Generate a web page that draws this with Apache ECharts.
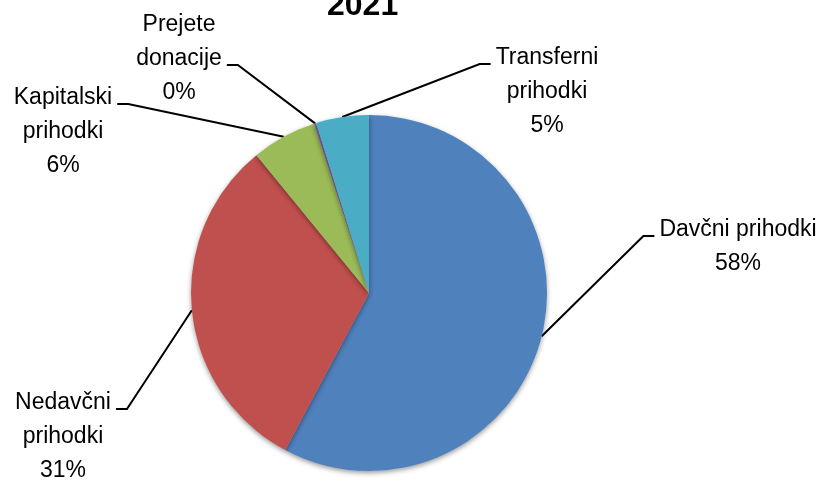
<!DOCTYPE html>
<html>
<head>
<meta charset="utf-8">
<script src="https://cdn.jsdelivr.net/npm/echarts@6/dist/echarts.min.js"></script>
<style>
  html, body { margin: 0; padding: 0; background: #fff; }
  #chart { width: 826px; height: 481px; }
</style>
</head>
<body>
<div id="chart"></div>
<script>
// data (share of revenue, %)
var categories = ['Davčni prihodki', 'Nedavčni\nprihodki', 'Kapitalski\nprihodki', 'Prejete\ndonacije', 'Transferni\nprihodki'];
var values = [57.8, 31.3, 5.9, 0.2, 4.8];
var colors = ['#4f81bd', '#c0504d', '#9bbb59', '#8064a2', '#4bacc6'];

// where each label sits: [center x, top y]
var labelSpots = [[738, 213], [63, 386], [63, 81], [179, 8], [547, 41]];

var FONT = 'Liberation Sans, Arial, sans-serif';
var FONT_SIZE = 23;
var LINE_H = 34;

var measureCtx = document.createElement('canvas').getContext('2d');
measureCtx.font = FONT_SIZE + 'px ' + FONT;

var chart = echarts.init(document.getElementById('chart'));

var option = {
  animation: false,
  title: {
    text: '2021',
    left: 322,
    top: -15,
    textStyle: { fontFamily: FONT, fontSize: 32, fontWeight: 'bold', color: '#000' }
  },
  series: [
    {
      type: 'pie',
      center: [369, 293],
      radius: 178,
      startAngle: 90,
      clockwise: true,
      percentPrecision: 0,
      avoidLabelOverlap: false,
      data: categories.map(function (c, i) {
        return { name: c, value: values[i], itemStyle: { color: colors[i] } };
      }),
      itemStyle: {
        borderWidth: 0,
        shadowBlur: 5,
        shadowOffsetY: 2,
        shadowColor: 'rgba(0,0,0,0.4)'
      },
      label: {
        show: true,
        position: 'outside',
        formatter: '{b}\n{d}%',
        fontFamily: FONT,
        fontSize: FONT_SIZE,
        lineHeight: LINE_H,
        color: '#000'
      },
      labelLine: {
        show: true,
        length: 10,
        length2: 10,
        lineStyle: { color: '#000', width: 2 }
      },
      labelLayout: function (p) {
        var spot = labelSpots[p.dataIndex];
        var lines = (p.text || '').split('\n');
        var wi = 0, w = 0;
        lines.forEach(function (t, k) {
          var tw = measureCtx.measureText(t).width;
          if (tw > w) { w = tw; wi = k; }
        });
        var start = p.labelLinePoints ? p.labelLinePoints[0] : [369, 293];
        var y = spot[1] + LINE_H * wi + LINE_H / 2 + 6;
        var endX, elbowX;
        if (spot[0] < 369) {
          endX = spot[0] + w / 2 + 5;
          elbowX = endX + 11;
        } else {
          endX = spot[0] - w / 2 - 5;
          elbowX = endX - 11;
        }
        return {
          x: spot[0],
          y: spot[1],
          align: 'center',
          verticalAlign: 'top',
          labelLinePoints: [start, [elbowX, y], [endX, y]]
        };
      }
    }
  ]
};

chart.setOption(option);
</script>
</body>
</html>
